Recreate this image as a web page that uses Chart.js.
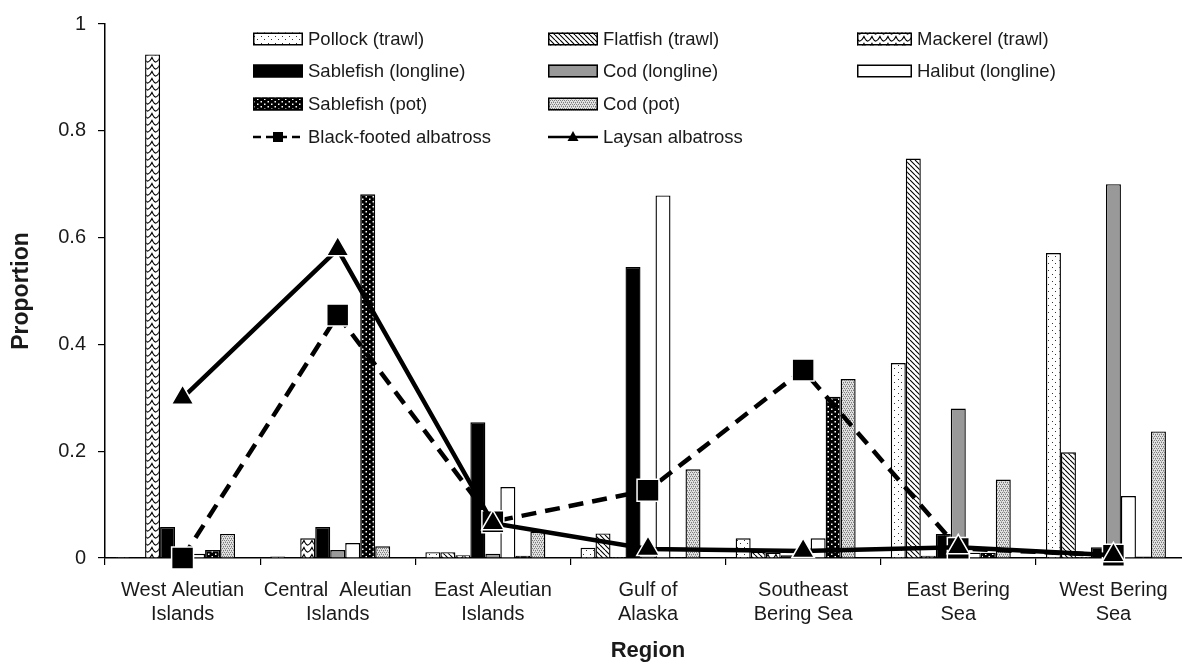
<!DOCTYPE html>
<html><head><meta charset="utf-8">
<script src="https://cdn.jsdelivr.net/npm/chart.js@4"></script>
<style>html,body{margin:0;padding:0;background:#fff;overflow:hidden}#wrap{width:1208px;height:664px}</style>
</head><body><div id="wrap"><canvas id="c" width="1208" height="664"></canvas></div>
<script>
// ---- data ----
const categories = [["West Aleutian","Islands"],["Central  Aleutian","Islands"],["East Aleutian","Islands"],["Gulf of","Alaska"],["Southeast","Bering Sea"],["East Bering","Sea"],["West Bering","Sea"]];
const pollockTrawl      = [0.002, 0.003, 0.011, 0.019, 0.037, 0.365, 0.571];
const flatfishTrawl     = [0.000, 0.000, 0.011, 0.046, 0.012, 0.748, 0.198];
const mackerelTrawl     = [0.943, 0.037, 0.005, 0.002, 0.010, 0.004, 0.002];
const sablefishLongline = [0.058, 0.058, 0.254, 0.545, 0.005, 0.045, 0.020];
const codLongline       = [0.003, 0.015, 0.008, 0.003, 0.005, 0.280, 0.700];
const halibutLongline   = [0.008, 0.028, 0.133, 0.679, 0.037, 0.010, 0.116];
const sablefishPot      = [0.015, 0.681, 0.004, 0.002, 0.302, 0.010, 0.003];
const codPot            = [0.045, 0.022, 0.049, 0.166, 0.335, 0.147, 0.237];
const blackFooted       = [0.000, 0.455, 0.068, 0.127, 0.352, 0.018, 0.005];
const laysan            = [0.300, 0.578, 0.065, 0.017, 0.013, 0.020, 0.005];
const yTickLabels = ['0','0.2','0.4','0.6','0.8','1'];
const barNames = ['Pollock (trawl)','Flatfish (trawl)','Mackerel (trawl)','Sablefish (longline)','Cod (longline)','Halibut (longline)','Sablefish (pot)','Cod (pot)'];
const lineNames = ['Black-footed albatross','Laysan albatross'];

// ---- patterns ----
const canvas = document.getElementById('c');
const ctx = canvas.getContext('2d');
function pat(w,h,fn){const o=document.createElement('canvas');o.width=w;o.height=h;const g=o.getContext('2d');fn(g,w,h);return ctx.createPattern(o,'repeat');}
const pPollock = pat(7,7,(g)=>{g.fillStyle='#fff';g.fillRect(0,0,7,7);g.fillStyle='#333';g.fillRect(2,1,1,1);g.fillRect(5,4,1,1);});
const pFlat = pat(5,5,(g)=>{g.fillStyle='#fff';g.fillRect(0,0,5,5);g.strokeStyle='#000';g.lineWidth=1.1;g.beginPath();for(const o of [-5,0,5]){g.moveTo(o,0);g.lineTo(o+5,5);}g.stroke();});
const pMack = pat(8,7,(g)=>{g.fillStyle='#fff';g.fillRect(0,0,8,7);g.strokeStyle='#000';g.lineWidth=1.2;g.beginPath();g.moveTo(-0.5,0.5);g.quadraticCurveTo(2,6.5,4,6);g.quadraticCurveTo(6,5.5,8.5,0.5);g.stroke();});
const pSablePot = pat(7,5,(g)=>{g.fillStyle='#000';g.fillRect(0,0,7,5);g.fillStyle='#fff';g.fillRect(1.5,1,1.5,1.5);g.fillRect(5,3.5,1.5,1.5);});
const pCodPot = pat(4,4,(g)=>{g.fillStyle='#e2e2e2';g.fillRect(0,0,4,4);g.fillStyle='#7c7c7c';g.fillRect(0,0,1,1);g.fillRect(2,0,1,1);g.fillRect(1,2,1,1);g.fillRect(3,2,1,1);g.fillStyle='#b0b0b0';g.fillRect(1,1,1,1);g.fillRect(3,3,1,1);});

const barFills = [pPollock, pFlat, pMack, '#000', '#999', '#fff', pSablePot, pCodPot];
const barData = [pollockTrawl, flatfishTrawl, mackerelTrawl, sablefishLongline, codLongline, halibutLongline, sablefishPot, codPot];

const datasets = barData.map((d,i)=>({type:'bar',label:barNames[i],data:d,backgroundColor:barFills[i],borderColor:'#000',borderWidth:1.4,borderSkipped:'start',order:1}));
// empty ninth slot (keeps the group spacing of the original)
datasets.push({type:'bar',label:'',data:categories.map(()=>null),backgroundColor:'rgba(0,0,0,0)',borderWidth:0,order:1});
datasets.push({type:'line',label:lineNames[0],data:blackFooted,borderColor:'#000',borderWidth:4.5,borderDash:[15,9],pointStyle:'rect',pointRadius:15.5,pointBackgroundColor:'#000',pointBorderColor:'#fff',pointBorderWidth:1.5,clip:false,order:0,tension:0});
datasets.push({type:'line',label:lineNames[1],data:laysan,borderColor:'#000',borderWidth:4.5,pointStyle:'triangle',pointRadius:13,pointBackgroundColor:'#000',pointBorderColor:'#fff',pointBorderWidth:1.5,clip:false,order:-1,tension:0});

// ---- legend (drawn in the plot area like the original) ----
const legendCols = [253, 548, 857];
const legendSwW = [50, 50, 55];
const legendRows = [39, 71, 104, 137];
const legendItems = [
  {ds:0,c:0,r:0},{ds:1,c:1,r:0},{ds:2,c:2,r:0},
  {ds:3,c:0,r:1},{ds:4,c:1,r:1},{ds:5,c:2,r:1},
  {ds:6,c:0,r:2},{ds:7,c:1,r:2},
  {ds:9,c:0,r:3},{ds:10,c:1,r:3}];
const legendPlugin = {id:'customLegend', afterDraw(chart){
  const g = chart.ctx; g.save();
  g.font = '18.5px "Liberation Sans", Arial, sans-serif'; g.fillStyle='#1a1a1a'; g.textBaseline='middle'; g.textAlign='left';
  for(const it of legendItems){
    const ds = chart.data.datasets[it.ds];
    const x = legendCols[it.c], y = legendRows[it.r], w = legendSwW[it.c];
    if(ds.type==='bar'){
      g.fillStyle = ds.backgroundColor; g.fillRect(x, y-6.5, w, 13);
      g.strokeStyle='#000'; g.lineWidth=1.5; g.strokeRect(x+0.75, y-5.75, w-1.5, 11.5);
    } else {
      g.strokeStyle='#000'; g.lineWidth=2.5; g.setLineDash(ds.borderDash?[8,5]:[]);
      g.beginPath(); g.moveTo(x, y); g.lineTo(x+w, y); g.stroke(); g.setLineDash([]);
      g.fillStyle='#000'; g.beginPath();
      if(ds.pointStyle==='rect'){ g.rect(x+w/2-5, y-5, 10, 10); }
      else { g.moveTo(x+w/2, y-6); g.lineTo(x+w/2+5.5, y+4); g.lineTo(x+w/2-5.5, y+4); g.closePath(); }
      g.fill();
    }
    g.fillStyle='#1a1a1a';
    g.fillText(ds.label, x + w + 5, y + 1);
  }
  g.restore();
}};

const tickFont = {family:'"Liberation Sans", Arial, sans-serif', size:20};
new Chart(ctx, {
  data:{labels:categories, datasets},
  options:{
    responsive:false, animation:false, events:[],
    layout:{padding:{top:22,left:0,right:0,bottom:0}},
    plugins:{legend:{display:false}, tooltip:{enabled:false}},
    datasets:{bar:{categoryPercentage:0.87, barPercentage:1.0}},
    scales:{
      x:{offset:true,
         grid:{display:true, offset:true, drawOnChartArea:false, drawTicks:true, tickLength:7, color:'#000', lineWidth:1.2},
         border:{display:true,color:'#000',width:1.5},
         ticks:{font:tickFont, color:'#1a1a1a', maxRotation:0, autoSkip:false, padding:13},
         title:{display:true,text:'Region',font:{family:'"Liberation Sans", Arial, sans-serif',size:22,weight:'bold'},color:'#1a1a1a',padding:{top:0,bottom:0}},
         afterFit(s){s.height=106;}
      },
      y:{min:0,max:1,
         ticks:{stepSize:0.2, font:tickFont, color:'#1a1a1a', padding:12, callback:(v,i)=>yTickLabels[i]},
         grid:{display:true, drawOnChartArea:false, drawTicks:true, tickLength:7, color:'#000', lineWidth:1.2},
         border:{display:true,color:'#000',width:1.5},
         title:{display:true,text:'Proportion',font:{family:'"Liberation Sans", Arial, sans-serif',size:23,weight:'bold'},color:'#1a1a1a',padding:{top:8,bottom:0}},
         afterFit(s){s.width=105;}
      }
    }
  },
  plugins:[legendPlugin]
});
</script></body></html>
